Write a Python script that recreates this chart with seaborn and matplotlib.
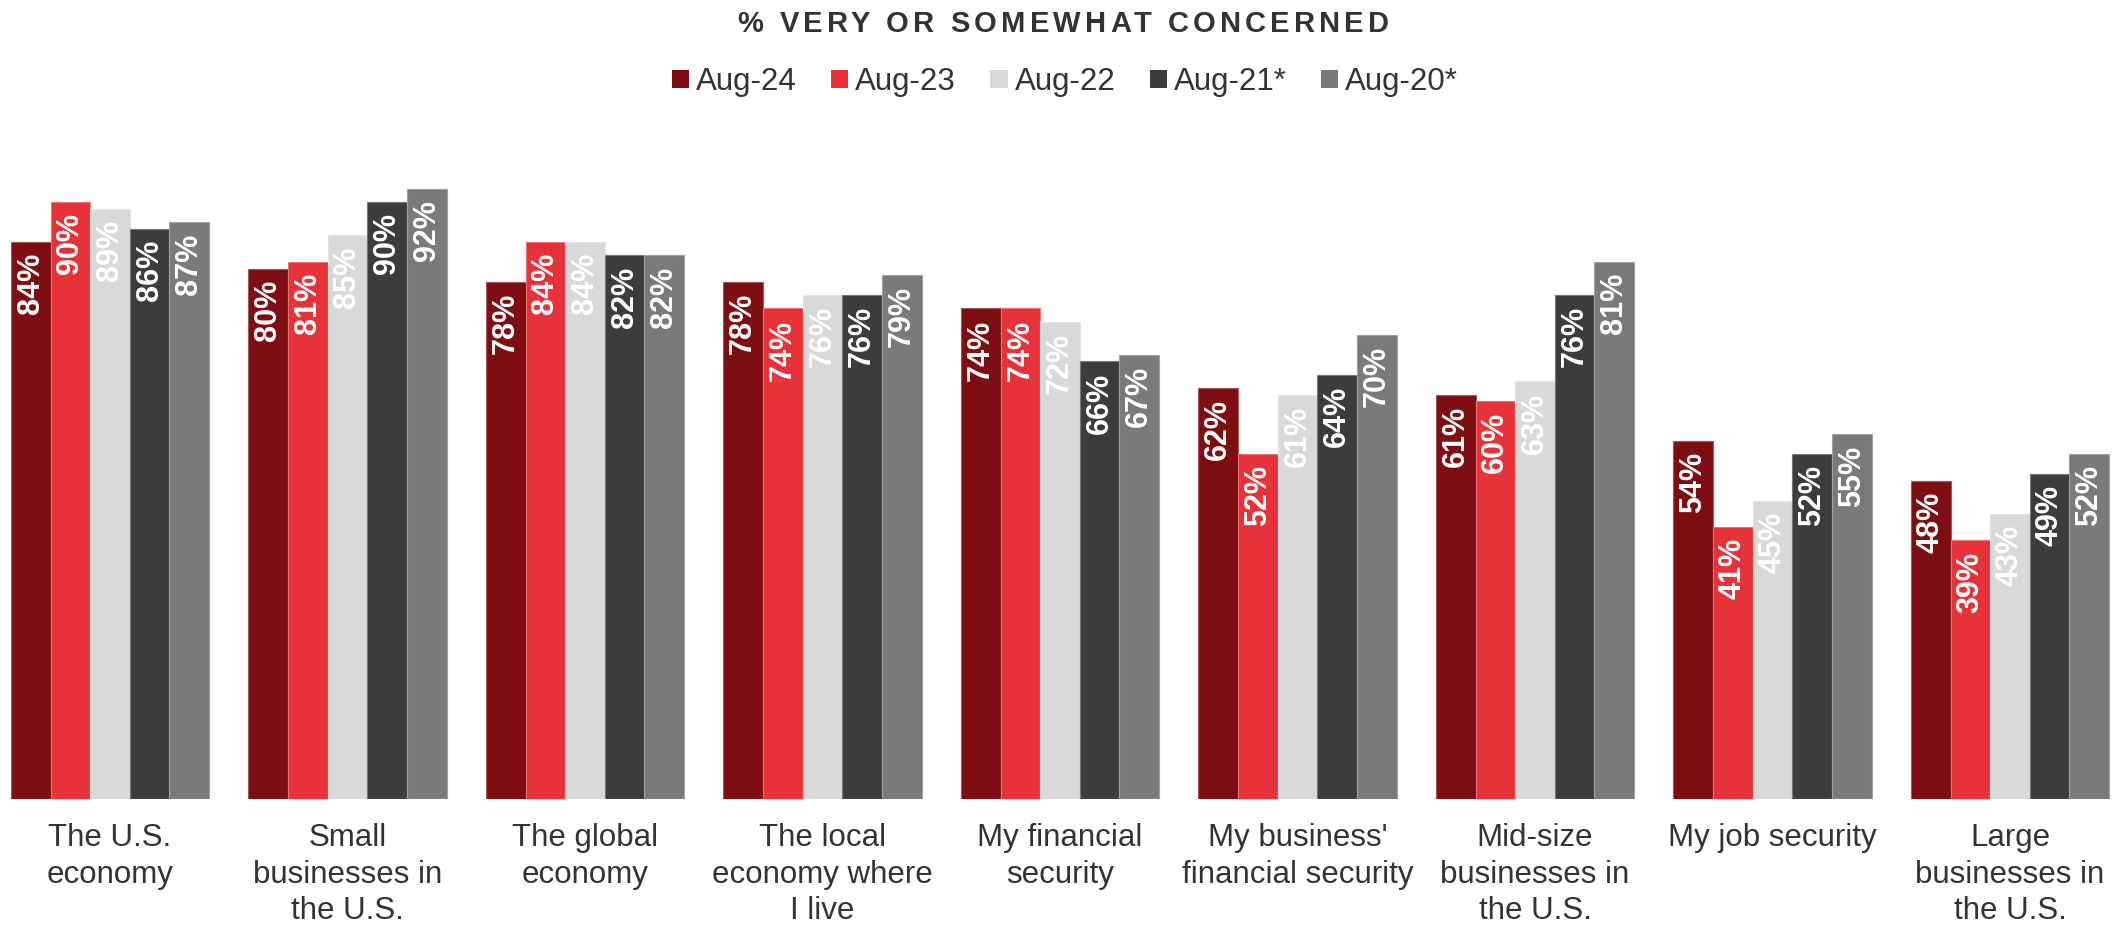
import numpy as np
import pandas as pd
import matplotlib
matplotlib.use("Agg")
import matplotlib.pyplot as plt
import seaborn as sns
from matplotlib.patches import Patch
from matplotlib.colors import to_rgb

# ---- data ----
categories = [
    "The U.S.\neconomy",
    "Small\nbusinesses in\nthe U.S.",
    "The global\neconomy",
    "The local\neconomy where\nI live",
    "My financial\nsecurity",
    "My business'\nfinancial security",
    "Mid-size\nbusinesses in\nthe U.S.",
    "My job security",
    "Large\nbusinesses in\nthe U.S.",
]
waves = ["Aug-24", "Aug-23", "Aug-22", "Aug-21*", "Aug-20*"]
aug24 = [84, 80, 78, 78, 74, 62, 61, 54, 48]
aug23 = [90, 81, 84, 74, 74, 52, 60, 41, 39]
aug22 = [89, 85, 84, 76, 72, 61, 63, 45, 43]
aug21 = [86, 90, 82, 76, 66, 64, 76, 52, 49]
aug20 = [87, 92, 82, 79, 67, 70, 81, 55, 52]
series = [aug24, aug23, aug22, aug21, aug20]
colors = ["#7F0E12", "#E8323A", "#D9D9D9", "#3C3C3C", "#7A7A7A"]
title = "% VERY OR SOMEWHAT CONCERNED"

TEXT = "#333333"

df = pd.DataFrame(
    [(cat, w, v) for w, vals in zip(waves, series) for cat, v in zip(categories, vals)],
    columns=["category", "wave", "value"],
)

sns.set_theme(style="white")
plt.rcParams["font.family"] = ["Liberation Sans", "DejaVu Sans"]

W, H = 2128, 925
fig = plt.figure(figsize=(W / 100, H / 100), dpi=100)
ax = fig.add_axes([0, 126 / H, 1, 663 / H])

group_width = 0.834
sns.barplot(
    data=df, x="category", y="value", hue="wave",
    order=categories, hue_order=waves, palette=colors,
    width=group_width, gap=0, dodge=True, saturation=1,
    errorbar=None, legend=False, ax=ax,
)

ax.set_ylim(0, 100)
ax.set_xlim(-0.463, 8.497)
for s in ax.spines.values():
    s.set_visible(False)
ax.set_xlabel("")
ax.set_ylabel("")
ax.set_yticks([])
ax.tick_params(axis="x", length=0, pad=17, labelsize=22.5, labelcolor=TEXT)
for lbl in ax.get_xticklabels():
    lbl.set_linespacing(1.3)

# thin lighter rim on each bar
def lighten(c, amt=0.3):
    r, g, b = to_rgb(c)
    return (r + (1 - r) * amt, g + (1 - g) * amt, b + (1 - b) * amt)

bar_w = group_width / len(waves)
for p in ax.patches:
    p.set_edgecolor(lighten(p.get_facecolor()[:3]))
    p.set_linewidth(0.8)
    xc = p.get_x() + p.get_width() / 2
    ci = int(round(xc))
    wi = int(round((xc - ci) / bar_w + (len(waves) - 1) / 2))
    v = series[wi][ci]
    ax.annotate(
        f"{v}%", xy=(xc, v), xytext=(0, -8), textcoords="offset points",
        rotation=90, ha="center", va="top", color="white",
        fontsize=22, fontweight="bold",
    )

# legend
handles = [Patch(facecolor=c, edgecolor="none") for c in colors]
fig.legend(
    handles, waves, loc="center", bbox_to_anchor=(0.5005, 1 - 82 / H),
    ncol=5, frameon=False, fontsize=22.5, handlelength=0.55, handleheight=0.55,
    handletextpad=0.22, columnspacing=1.1, labelcolor=TEXT,
    borderaxespad=0, borderpad=0,
)

# letter-spaced title
def spaced_text(text, x_center_px, baseline_px, total_px, **kw):
    r = fig.canvas.get_renderer()

    def width(s):
        t = fig.text(0, 0, s, **kw)
        w = t.get_window_extent(r).width
        t.remove()
        return w

    idx = [i for i, ch in enumerate(text) if ch != " "]
    adv = {i: width(text[: i + 1]) - width(text[i]) for i in idx}
    last = idx[-1]
    natural = adv[last] + width(text[last])
    track = (total_px - natural) / (len(text) - 1)
    start = x_center_px - total_px / 2
    for i in idx:
        fig.text((start + adv[i] + i * track) / W, 1 - baseline_px / H, text[i],
                 ha="left", va="baseline", **kw)

spaced_text(title, 1063, 32, 652, fontsize=21, fontweight="bold", color=TEXT)

fig.savefig("out.png", dpi=100)
